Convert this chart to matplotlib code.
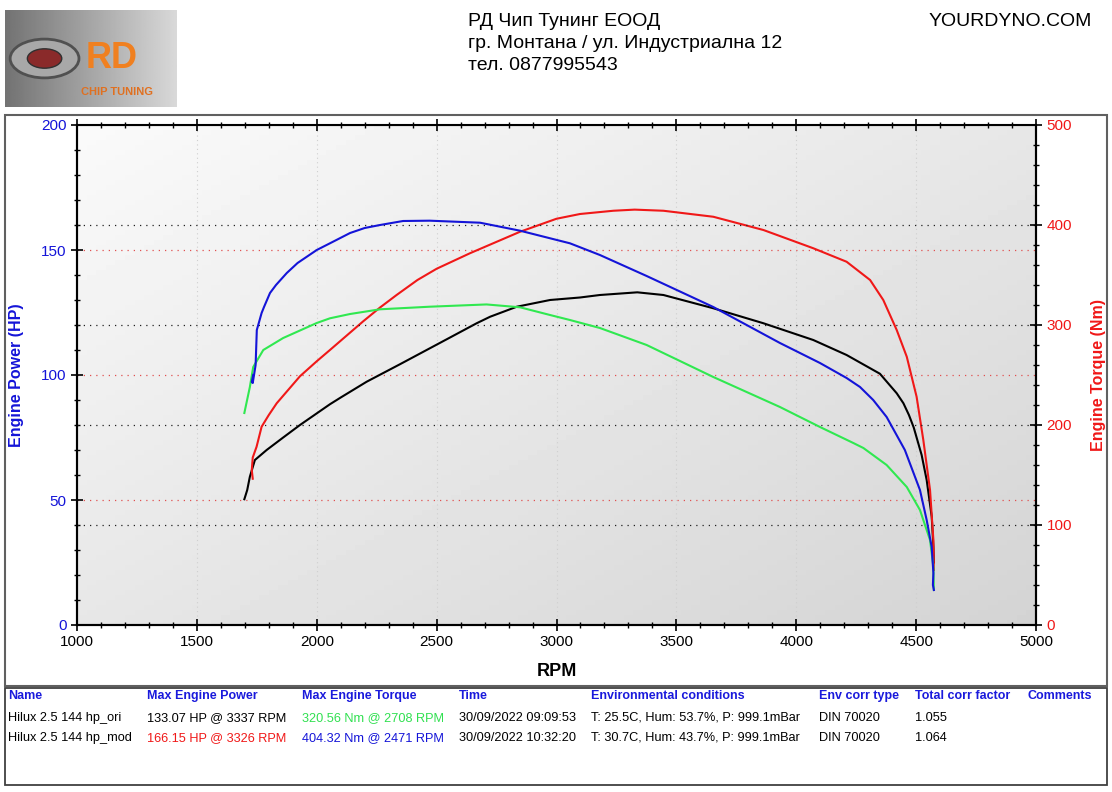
#!/usr/bin/env python3
"""Dyno chart: Hilux 2.5 144 hp original vs modified."""

import matplotlib

matplotlib.use("Agg")
import matplotlib.pyplot as plt
import numpy as np
from matplotlib.patches import Rectangle, Circle
from matplotlib.ticker import MultipleLocator

plt.rcParams["font.family"] = ["Liberation Sans", "DejaVu Sans"]

# ---- data ----
ori_power_rpm = [1698, 1710, 1721, 1742, 1791, 1860, 1930, 2055, 2100, 2208, 2347, 2472,
                 2556, 2667, 2723, 2834, 2973, 3098, 3181, 3337, 3446, 3654, 3863, 4071,
                 4210, 4349, 4419, 4447, 4470, 4490, 4505, 4523, 4544, 4565, 4572, 4574]
ori_power_hp = [50.3, 54, 59.3, 66, 70, 75, 80, 88.3, 91, 97.3, 104.3, 110.7,
                115, 120.7, 123.3, 127.3, 130, 131, 132, 133.07, 132, 126.7, 120.7, 114,
                108, 100.5, 92.7, 88.7, 84, 79, 74, 68, 58, 43.3, 31.3, 25]

mod_power_rpm = [1733, 1729, 1733, 1749, 1770, 1800, 1833, 1930, 2000, 2055, 2194, 2264,
                 2333, 2420, 2500, 2639, 2848, 3000, 3098, 3237, 3326, 3446, 3654,
                 3863, 4071, 4210, 4308, 4363, 4419, 4461, 4502, 4530, 4558, 4572, 4574]
mod_power_hp = [58.5, 62, 67, 71.3, 79.3, 84, 88.7, 99.5, 105.5, 110, 121.5, 127,
                132, 138, 142.5, 148.7, 157.3, 162.5, 164.4, 165.7, 166.15, 165.7, 163.3,
                158, 150.7, 145.3, 138, 130, 118, 107.3, 91.3, 74, 54, 34, 22]

mod_torque_rpm = [1735, 1729, 1733, 1745, 1750, 1770, 1780, 1805, 1830, 1875, 1920, 2000,
                  2055, 2139, 2200, 2264, 2360, 2471, 2681, 2848, 3056, 3181, 3376, 3654,
                  3932, 4099, 4210, 4266, 4321, 4377, 4453, 4516, 4544, 4565, 4572, 4570,
                  4574]
mod_torque_nm = [250, 243, 242, 260, 295, 312, 318, 332, 340, 352, 362, 375,
                 381.7, 392, 397, 400, 404, 404.32, 402.3, 394.3, 381.7, 370, 349, 318,
                 282, 262, 247, 238, 225, 208, 175, 135, 105, 78, 52, 40,
                 35]

ori_torque_rpm = [1698, 1721, 1735, 1777, 1860, 2000, 2055, 2139, 2264, 2472, 2708, 2848,
                  2973, 3056, 3181, 3376, 3654, 3932, 4099, 4238, 4280, 4377, 4461, 4516,
                  4558, 4572, 4574]
ori_torque_nm = [212, 238, 258, 275, 287, 302, 306.7, 311, 315.7, 318.3, 320.56, 317.7,
                 310, 305, 297, 280, 248, 218, 198, 182, 177, 160, 138, 115,
                 85, 58, 35]

header_lines = ["РД Чип Тунинг ЕООД", "гр. Монтана / ул. Индустриална 12", "тел. 0877995543"]
site = "YOURDYNO.COM"

table_cols = ["Name", "Max Engine Power", "Max Engine Torque", "Time",
              "Environmental conditions", "Env corr type", "Total corr factor", "Comments"]
table_rows = [
    ["Hilux 2.5 144 hp_ori", "133.07 HP @ 3337 RPM", "320.56 Nm @ 2708 RPM",
     "30/09/2022 09:09:53", "T: 25.5C, Hum: 53.7%, P: 999.1mBar", "DIN 70020", "1.055", ""],
    ["Hilux 2.5 144 hp_mod", "166.15 HP @ 3326 RPM", "404.32 Nm @ 2471 RPM",
     "30/09/2022 10:32:20", "T: 30.7C, Hum: 43.7%, P: 999.1mBar", "DIN 70020", "1.064", ""],
]

W, H = 1112, 792
BLUE = "#1414d8"
RED = "#f01818"
GREEN = "#30e850"


def fx(px):
    return px / W


def fy(py):
    return 1 - py / H


def main():
    fig = plt.figure(figsize=(W / 100, H / 100), dpi=100)

    # frames
    fig.patches.append(Rectangle((fx(5), fy(686)), fx(1102), 571 / H, transform=fig.transFigure,
                                 fill=False, ec="#606060", lw=1.5))
    fig.patches.append(Rectangle((fx(5), fy(785)), fx(1102), 97 / H, transform=fig.transFigure,
                                 fill=False, ec="#404040", lw=1.3))

    # logo placeholder
    lax = fig.add_axes([fx(5), fy(107), fx(172), 97 / H])
    grad = np.linspace(0.45, 0.85, 200)[None, :] * np.ones((50, 1))
    lax.imshow(grad, cmap="gray", vmin=0, vmax=1, extent=[0, 1, 0, 1], aspect="auto")
    lax.add_patch(Circle((0.23, 0.5), 0.2, transform=lax.transAxes, fc="#a8a8a8", ec="#505050", lw=2))
    lax.add_patch(Circle((0.23, 0.5), 0.1, transform=lax.transAxes, fc="#8a2a2a", ec="#303030", lw=1))
    lax.text(0.62, 0.5, "RD", color="#f08020", fontsize=26, fontweight="bold",
             ha="center", va="center", transform=lax.transAxes)
    lax.text(0.65, 0.15, "CHIP TUNING", color="#e07020", fontsize=8, fontweight="bold",
             ha="center", va="center", transform=lax.transAxes)
    lax.set_axis_off()

    for i, line in enumerate(header_lines):
        fig.text(fx(468), fy(21 + i * 22.5), line, fontsize=14, ha="left", va="center")
    fig.text(fx(1092), fy(21), site, fontsize=14, ha="right", va="center")

    # main axes
    ax = fig.add_axes([fx(77), fy(625), fx(959), 500 / H])
    bg = np.add.outer(np.linspace(0, 1, 100), np.linspace(0, 1, 100))
    ax.imshow(0.98 - 0.075 * bg, cmap="gray", vmin=0, vmax=1, extent=[0, 1, 0, 1],
              transform=ax.transAxes, aspect="auto", zorder=0)

    ax.set_xlim(1000, 5000)
    ax.set_ylim(0, 200)
    ax.xaxis.set_major_locator(MultipleLocator(500))
    ax.xaxis.set_minor_locator(MultipleLocator(100))
    ax.yaxis.set_major_locator(MultipleLocator(50))
    ax.yaxis.set_minor_locator(MultipleLocator(10))

    ax2 = ax.twinx()
    ax2.set_ylim(0, 500)
    ax2.yaxis.set_major_locator(MultipleLocator(100))
    ax2.yaxis.set_minor_locator(MultipleLocator(20))

    # grids
    for v in range(1500, 5000, 500):
        ax.axvline(v, color="#cfcfcf", ls=(0, (1, 3)), lw=0.8, zorder=1)
    for v in (50, 100, 150):
        ax.axhline(v, color="#e05050", ls=(0, (1, 4)), lw=0.9, zorder=1)
    for v in (100, 200, 300, 400):
        ax2.axhline(v, color="#202020", ls=(0, (1, 4)), lw=0.9, zorder=1)

    ax.plot(ori_power_rpm, ori_power_hp, color="black", lw=1.5, zorder=3)
    ax.plot(mod_power_rpm, mod_power_hp, color=RED, lw=1.5, zorder=3)
    ax2.plot(ori_torque_rpm, ori_torque_nm, color=GREEN, lw=1.5, zorder=3)
    ax2.plot(mod_torque_rpm, mod_torque_nm, color=BLUE, lw=1.5, zorder=3)

    for a in (ax, ax2):
        for s in a.spines.values():
            s.set_linewidth(1.5)
            s.set_color("black")
    ax.spines["top"].set_linewidth(0.8)
    ax.spines["top"].set_color("#707070")

    ax.tick_params(axis="both", which="major", direction="inout", length=8, width=1.2,
                   labelsize=11)
    ax.tick_params(axis="both", which="minor", direction="inout", length=5, width=1)
    ax.tick_params(axis="x", which="both", top=True)
    ax.tick_params(axis="y", labelcolor=BLUE)
    ax2.tick_params(axis="y", which="major", direction="inout", length=8, width=1.2,
                    labelsize=11, labelcolor=RED)
    ax2.tick_params(axis="y", which="minor", direction="inout", length=5, width=1)

    ax.set_xlabel("RPM", fontsize=13, fontweight="bold", labelpad=10)
    ax.set_ylabel("Engine Power (HP)", fontsize=11.5, fontweight="bold", color=BLUE, labelpad=12)
    ax2.set_ylabel("Engine Torque (Nm)", fontsize=11.5, fontweight="bold", color=RED, labelpad=14)

    # results table
    col_x = [8, 147, 302, 459, 591, 819, 915, 1027]
    for x, name in zip(col_x, table_cols):
        fig.text(fx(x), fy(696), name, fontsize=9, fontweight="bold", color="#1a1adc",
                 ha="left", va="center")
    row_colors = [
        ["black", "black", "#30e050", "black", "black", "black", "black", "black"],
        ["black", RED, BLUE, "black", "black", "black", "black", "black"],
    ]
    for r, (row, colors) in enumerate(zip(table_rows, row_colors)):
        for x, val, c in zip(col_x, row, colors):
            fig.text(fx(x), fy(718 + r * 20), val, fontsize=9.2, color=c, ha="left", va="center")

    fig.savefig("out.png", dpi=100)
    plt.close(fig)
    return 0


if __name__ == "__main__":
    raise SystemExit(main())
